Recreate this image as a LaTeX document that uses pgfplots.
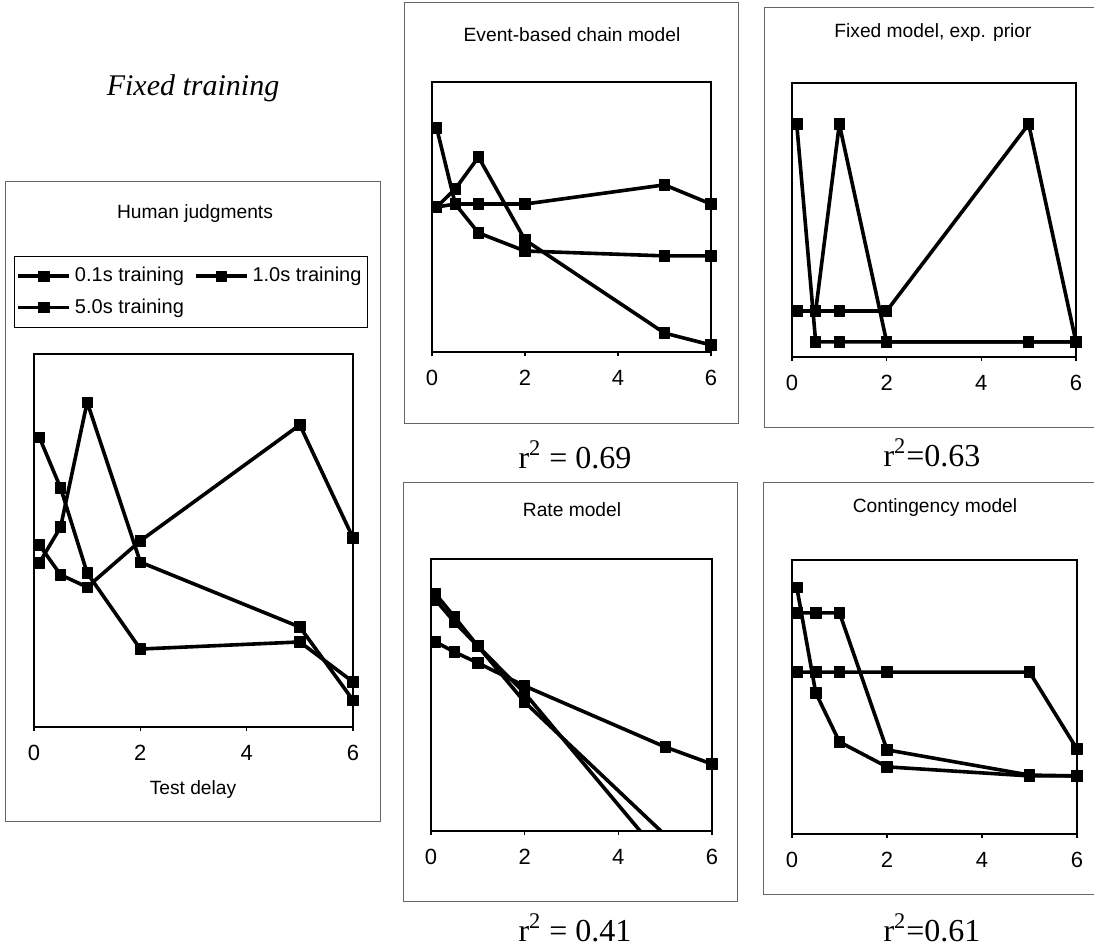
\documentclass[border=0pt]{standalone}
\usepackage{fontspec}
\setmainfont{Liberation Sans}
\newfontfamily\timesfont{Liberation Serif}
\usepackage{pgfplots}
\usepackage{pgfplotstable}
\pgfplotsset{compat=1.18}

% judged strength (arbitrary units, 0-100) against test delay (s)
\pgfplotstableread{
x    a     b     c
0.1  77.7  48.8  44.0
0.5  64.1  40.8  53.6
1    41.3  37.5  87.1
2    20.9  49.9  44.2
5    22.8  81.0  26.8
6    12.1  50.7  7.2
}\human
\pgfplotstableread{
x    a     b     c
0.1  83.0  53.7  53.7
0.5  54.8  60.4  54.8
1    44.1  72.2  54.8
2    37.4  41.5  54.8
5    35.6  7.0   61.9
6    35.6  2.6   54.8
}\eventchain
\pgfplotstableread{
x    a     b     c
0.1  85.0  16.8  16.8
0.5  5.5   16.8  16.8
1    5.5   85.0  16.8
2    5.5   5.5   16.8
5    5.5   5.5   85.0
6    5.5   5.5   5.5
}\fixedexp
\pgfplotstableread{
x    a      b      c
0.1  87.1   84.9   69.5
0.5  78.7   76.8   65.8
1    68.0   68.0   61.8
2    50.7   47.4   53.3
5    -11.0  -1.5   30.9
6    -31.0  -18.0  24.6
}\ratemodel
\pgfplotstableread{
x    a     b     c
0.1  90.1  80.7  59.1
0.5  51.5  80.7  59.1
1    33.6  80.7  59.1
2    24.5  30.7  59.1
5    21.2  21.5  59.1
6    21.2  21.2  31.0
}\contingency

\pgfplotsset{
  panel/.style={
    scale only axis, anchor=south west,
    xmin=0, xmax=6, ymin=0, ymax=100,
    xtick={0,2,4,6}, ytick=\empty,
    xtick pos=left, tick align=outside,
    major tick length=2pt,
    axis line style={line width=1.3pt},
    every tick/.style={black, line width=0.8pt},
    tick label style={font=\fontsize{11}{13}\selectfont},
    xticklabel style={yshift=-3.5pt},
    /pgf/number format/assume math mode=true,
    cycle list={black,mark=square*\\},
    every axis plot post/.append style={black, line width=1.8pt, line join=round,
      mark size=2.6pt, mark options={solid, fill=black, line width=0.4pt}},
  },
}

\begin{document}
\begin{tikzpicture}
\path[use as bounding box] (0,0) rectangle (547pt,474.5pt);

% panel frames
\begin{scope}[draw=black!60, line width=0.5pt]
\draw (2.5pt,63.5pt) rectangle (190pt,383.5pt);
\draw (202pt,262.5pt) rectangle (369pt,473pt);
\draw (382pt,260.5pt) rectangle (549pt,470.5pt);
\draw (201.5pt,23.5pt) rectangle (368.5pt,233pt);
\draw (381.5pt,27pt) rectangle (549pt,233pt);
\end{scope}

\node[font=\timesfont\itshape\fontsize{15}{18}\selectfont] at (96.5pt,430.5pt) {Fixed training};

% Human judgments
\begin{axis}[panel, at={(17pt,111pt)}, width=159.5pt, height=186.5pt,
  legend columns=2,
  legend style={at={(-0.0627,1.2627)}, anchor=north west, draw=black,
    font=\fontsize{10}{12}\selectfont, inner xsep=1pt, inner ysep=2pt,
    /tikz/every even column/.append style={column sep=3pt},
    nodes={inner xsep=2pt, inner ysep=3.5pt}},
  legend cell align=left,
  legend image code/.code={\draw[mark repeat=2, mark phase=2] plot coordinates {(0pt,0pt) (12.75pt,0pt) (25.5pt,0pt)};}]
\addplot table[x=x, y=a] {\human};
\addlegendentry{0.1s training}
\addplot table[x=x, y=c] {\human};
\addlegendentry{1.0s training}
\addplot table[x=x, y=b] {\human};
\addlegendentry{5.0s training}
\end{axis}
\node[font=\fontsize{9.6}{11}\selectfont] at (97.5pt,367.5pt) {Human judgments};
\node[font=\fontsize{9.6}{11}\selectfont] at (96.5pt,79.5pt) {Test delay};

% Event-based chain model
\begin{axis}[panel, at={(216pt,298.5pt)}, width=139.5pt, height=135pt]
\addplot table[x=x, y=a] {\eventchain};
\addplot table[x=x, y=b] {\eventchain};
\addplot table[x=x, y=c] {\eventchain};
\end{axis}
\node[font=\fontsize{9.6}{11}\selectfont] at (286pt,457pt) {Event-based chain model};
\node[font=\timesfont\fontsize{16}{19}\selectfont] at (287.5pt,247pt) {r\textsuperscript{2} = 0.69};

% Fixed model, exponential prior
\begin{axis}[panel, at={(396pt,296pt)}, width=142pt, height=137pt]
\addplot table[x=x, y=a] {\fixedexp};
\addplot table[x=x, y=b] {\fixedexp};
\addplot table[x=x, y=c] {\fixedexp};
\end{axis}
\node[font=\fontsize{9.6}{11}\selectfont] at (466.5pt,458pt) {Fixed model, exp. prior};
\node[font=\timesfont\fontsize{16}{19}\selectfont] at (466pt,248pt) {r\textsuperscript{2}=0.63};

% Rate model: two series run below the axis, only visible marks drawn
\begin{axis}[panel, at={(215.5pt,59pt)}, width=140.5pt, height=136pt]
\addplot[mark=none] table[x=x, y=a] {\ratemodel};
\addplot[only marks, mark=square*, restrict y to domain=0:100] table[x=x, y=a] {\ratemodel};
\addplot[mark=none] table[x=x, y=b] {\ratemodel};
\addplot[only marks, mark=square*, restrict y to domain=0:100] table[x=x, y=b] {\ratemodel};
\addplot table[x=x, y=c] {\ratemodel};
\end{axis}
\node[font=\fontsize{9.6}{11}\selectfont] at (286pt,219.5pt) {Rate model};
\node[font=\timesfont\fontsize{16}{19}\selectfont] at (287.5pt,10.5pt) {r\textsuperscript{2} = 0.41};

% Contingency model
\begin{axis}[panel, at={(396pt,57.5pt)}, width=142.5pt, height=137pt]
\addplot table[x=x, y=a] {\contingency};
\addplot table[x=x, y=b] {\contingency};
\addplot table[x=x, y=c] {\contingency};
\end{axis}
\node[font=\fontsize{9.6}{11}\selectfont] at (467.5pt,220.5pt) {Contingency model};
\node[font=\timesfont\fontsize{16}{19}\selectfont] at (466pt,10.5pt) {r\textsuperscript{2}=0.61};
\end{tikzpicture}
\end{document}
